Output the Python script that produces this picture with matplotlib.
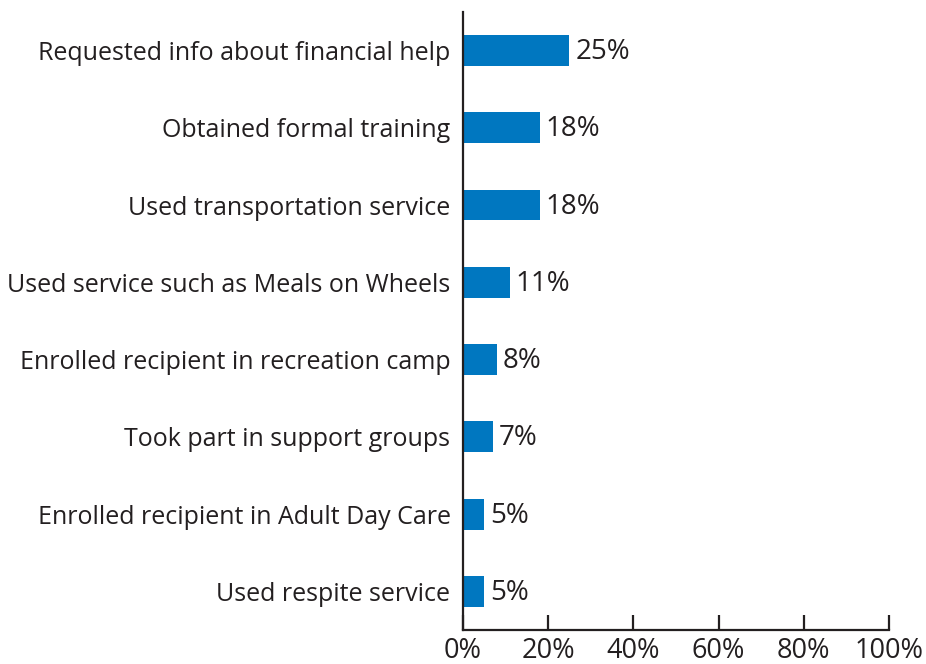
import matplotlib
matplotlib.use("Agg")
import matplotlib.pyplot as plt

# data
categories = [
    "Requested info about financial help",
    "Obtained formal training",
    "Used transportation service",
    "Used service such as Meals on Wheels",
    "Enrolled recipient in recreation camp",
    "Took part in support groups",
    "Enrolled recipient in Adult Day Care",
    "Used respite service",
]
values = [25, 18, 18, 11, 8, 7, 5, 5]
xticks = [0, 20, 40, 60, 80, 100]

text_color = "#231f20"
bar_color = "#0077c0"
plt.rcParams["font.family"] = ["Open Sans", "DejaVu Sans"]

fig = plt.figure(figsize=(9.26, 6.64), dpi=100)
ax = fig.add_axes([0.5, 0.0512, 0.46, 0.931])

ypos = list(range(len(categories)))
ax.barh(ypos, values, height=0.4, color=bar_color)
for y, v in zip(ypos, values):
    ax.text(v + 1.4, y + 0.02, f"{v}%", va="center", ha="left", fontsize=20, color=text_color)

ax.set_ylim(len(categories) - 0.5, -0.5)
ax.set_xlim(0, 100)
ax.set_yticks(ypos)
ax.set_yticklabels(categories, fontsize=18, color=text_color)
ax.set_xticks(xticks)
ax.set_xticklabels([f"{t}%" for t in xticks], fontsize=19.5, color=text_color)

ax.tick_params(axis="y", length=0, pad=9)
ax.tick_params(axis="x", direction="in", length=11, width=1.6, color=text_color, pad=5)
for s in ["top", "right"]:
    ax.spines[s].set_visible(False)
for s in ["left", "bottom"]:
    ax.spines[s].set_linewidth(1.6)
    ax.spines[s].set_color(text_color)

fig.savefig("out.png", dpi=100)
